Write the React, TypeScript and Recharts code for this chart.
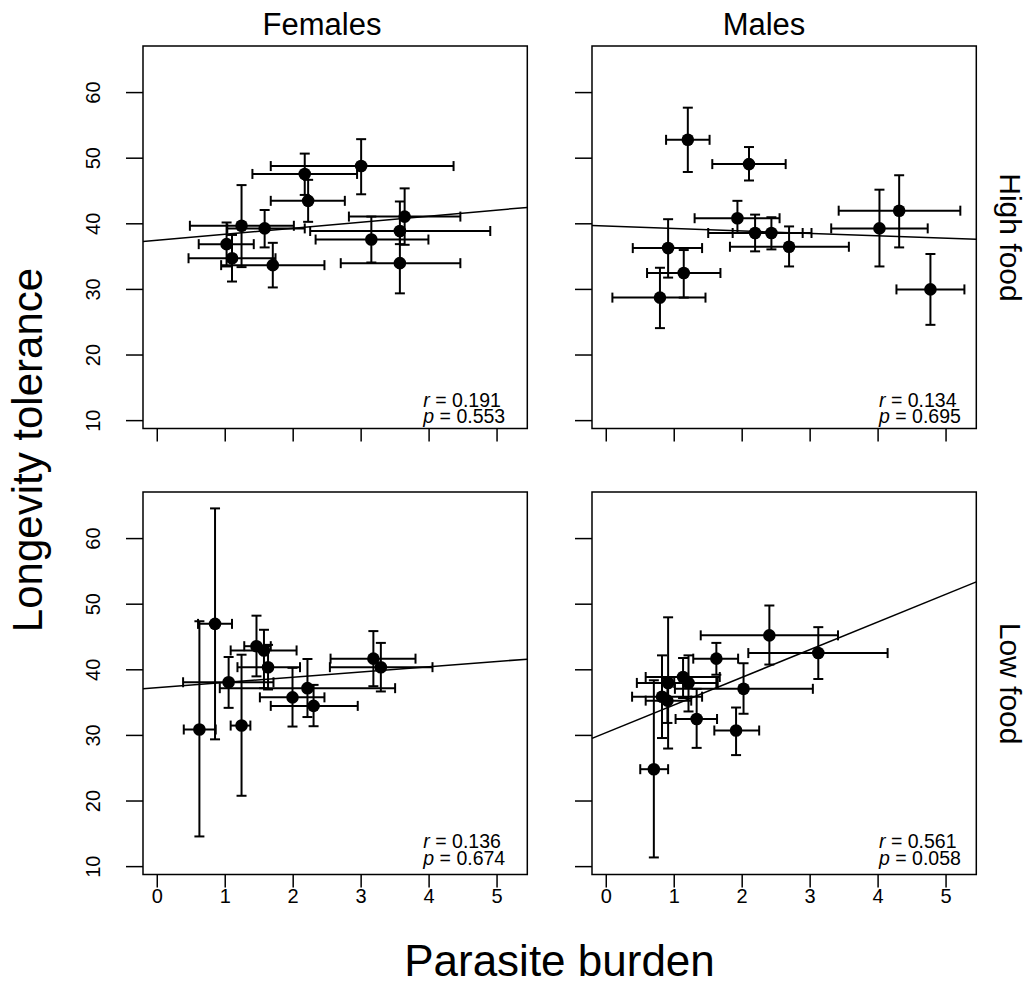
import React from 'react';
import { ScatterChart, Scatter, XAxis, YAxis, ErrorBar, ReferenceLine, ReferenceArea } from 'recharts';

const FONT = '"Liberation Sans", Arial, Helvetica, sans-serif';

// ---- axis ticks ----
const xTicks = [0, 1, 2, 3, 4, 5];
const yTicks = [10, 20, 30, 40, 50, 60];
const XMIN = -0.21;
const XMAX = 5.445;
const YMIN = 8.8;
const YMAX = 67.1;

// ---- Females, High food ----
const femHighX = [1.02, 1.10, 1.24, 1.58, 1.70, 2.17, 2.22, 3.00, 3.15, 3.57, 3.64, 3.57];
const femHighY = [36.9, 34.75, 39.7, 39.3, 33.7, 47.6, 43.5, 48.8, 37.6, 38.9, 41.1, 34.0];
const femHighXErr = [[0.61, 1.42], [0.46, 1.74], [0.48, 2.01], [1.03, 2.17], [0.94, 2.46], [1.40, 2.94], [1.67, 2.76], [1.67, 4.36], [2.33, 3.99], [2.25, 4.90], [2.82, 4.46], [2.70, 4.46]];
const femHighYErr = [[33.5, 40.2], [31.2, 38.3], [33.4, 45.9], [36.4, 42.1], [30.3, 37.1], [44.4, 50.7], [40.3, 46.7], [44.5, 52.9], [34.1, 41.1], [36.9, 43.4], [36.8, 45.4], [29.4, 38.6]];
const femHighFit = [37.49, 0.92];
const femHighStats = ['0.191', '0.553'];

// ---- Males, High food ----
const malHighX = [1.20, 2.10, 1.93, 2.19, 2.43, 2.69, 0.91, 1.14, 0.79, 4.02, 4.31, 4.77];
const malHighY = [52.8, 49.1, 40.85, 38.6, 38.6, 36.5, 36.3, 32.5, 28.75, 39.3, 42.0, 30.0];
const malHighXErr = [[0.88, 1.52], [1.56, 2.64], [1.30, 2.55], [1.50, 2.89], [1.86, 3.02], [1.82, 3.57], [0.39, 1.41], [0.60, 1.68], [0.09, 1.46], [3.31, 4.73], [3.42, 5.21], [4.27, 5.27]];
const malHighYErr = [[47.9, 57.7], [46.6, 51.7], [38.6, 43.5], [35.8, 41.4], [36.1, 41.0], [33.5, 39.6], [31.8, 40.7], [28.75, 36.0], [24.1, 33.3], [33.5, 45.2], [36.4, 47.4], [24.6, 35.4]];
const malHighFit = [39.65, -0.369];
const malHighStats = ['0.134', '0.695'];

// ---- Females, Low food ----
const femLowX = [0.85, 0.62, 1.05, 1.24, 1.46, 1.57, 1.63, 1.99, 2.21, 2.30, 3.18, 3.29];
const femLowY = [47.0, 30.9, 38.1, 31.5, 43.6, 42.95, 40.4, 35.8, 37.2, 34.5, 41.7, 40.4];
const femLowXErr = [[0.60, 1.10], [0.39, 0.86], [0.38, 1.71], [1.08, 1.37], [1.28, 1.67], [1.08, 2.05], [1.18, 2.10], [1.51, 2.46], [0.92, 3.50], [1.67, 2.95], [2.55, 3.80], [2.54, 4.05]];
const femLowYErr = [[29.4, 64.6], [14.6, 47.4], [34.2, 41.95], [20.8, 42.3], [39.0, 48.25], [37.2, 46.1], [37.0, 43.8], [31.35, 40.3], [32.8, 41.65], [31.4, 37.7], [37.5, 45.9], [36.7, 44.1]];
const femLowFit = [37.27, 0.80];
const femLowStats = ['0.136', '0.674'];

// ---- Males, Low food ----
const malLowX = [2.40, 3.12, 1.62, 2.02, 1.91, 1.33, 0.70, 0.91, 1.13, 1.21, 0.82, 0.90];
const malLowY = [45.25, 42.55, 41.7, 37.1, 30.75, 32.5, 24.85, 38.0, 38.9, 38.0, 35.9, 35.3];
const malLowXErr = [[1.39, 3.41], [2.09, 4.14], [1.28, 1.94], [1.01, 3.04], [1.59, 2.25], [1.02, 1.63], [0.50, 0.91], [0.45, 1.64], [0.58, 1.67], [1.00, 1.62], [0.38, 1.41], [0.58, 1.25]];
const malLowYErr = [[40.8, 49.8], [38.6, 46.5], [39.25, 44.1], [33.3, 41.0], [27.0, 34.25], [28.1, 37.1], [11.4, 38.4], [28.0, 48.0], [35.7, 41.8], [33.65, 42.2], [29.6, 42.2], [31.9, 38.7]];
const malLowFit = [30.43, 4.22];
const malLowStats = ['0.561', '0.058'];

// ---- layout ----
const PW = 384.3;
const PH = 382.5;
const PAD_L = 90;
const PAD_T = 10;
const PAD_R = 12;
const PAD_B = 60;
const COL_X = [142.7, 591.7];
const ROW_Y = [46, 492.3];
const TICK = 13;

function buildRows(xs: number[], ys: number[], xe: number[][], ye: number[][]) {
  return xs.map((x, i) => ({
    x,
    y: ys[i],
    ex: [x - xe[i][0], xe[i][1] - x],
    ey: [ys[i] - ye[i][0], ye[i][1] - ys[i]],
  }));
}

const Dot = (p: any) => <circle cx={p.cx} cy={p.cy} r={6.3} fill="#000" />;

function Panel(props: any) {
  const { left, top, rows, fit, xLabels, yLabels } = props;
  const [a, b] = fit;
  const renderX = (tp: any) => {
    if (!xLabels) return <g />;
    return (
      <text x={tp.x} y={PAD_T + PH + 22} textAnchor="middle" dominantBaseline="central" fontSize={20} fontFamily={FONT} fill="#000">
        {tp.payload.value}
      </text>
    );
  };
  const renderY = (tp: any) => {
    if (!yLabels) return <g />;
    const lx = PAD_L - 50.2;
    return (
      <text x={lx} y={tp.y} transform={`rotate(-90 ${lx} ${tp.y})`} textAnchor="middle" dominantBaseline="central" fontSize={20} fontFamily={FONT} fill="#000">
        {tp.payload.value}
      </text>
    );
  };
  return (
    <div style={{ position: 'absolute', left: left - PAD_L, top: top - PAD_T }}>
      <ScatterChart width={PW + PAD_L + PAD_R} height={PH + PAD_T + PAD_B} margin={{ top: PAD_T, right: PAD_R, bottom: 0, left: 0 }}>
        <XAxis type="number" dataKey="x" domain={[XMIN, XMAX]} ticks={xTicks} allowDataOverflow axisLine={false} tickSize={TICK} tickLine={{ stroke: '#000', strokeWidth: 1.5 }} height={PAD_B} tick={renderX} interval={0} />
        <YAxis type="number" dataKey="y" domain={[YMIN, YMAX]} ticks={yTicks} allowDataOverflow axisLine={false} width={PAD_L} tickSize={17} tickLine={{ stroke: '#000', strokeWidth: 1.5 }} tick={renderY} interval={0} />
        <ReferenceArea x1={XMIN} x2={XMAX} y1={YMIN} y2={YMAX} fill="none" fillOpacity={0} stroke="#000" strokeWidth={1.5} ifOverflow="visible" />
        <ReferenceLine segment={[{ x: XMIN, y: a + b * XMIN }, { x: XMAX, y: a + b * XMAX }]} stroke="#000" strokeWidth={1.5} ifOverflow="visible" />
        <Scatter data={rows} fill="#000" isAnimationActive={false} shape={Dot}>
          <ErrorBar dataKey="ex" direction="x" width={5} stroke="#000" strokeWidth={2} isAnimationActive={false} />
          <ErrorBar dataKey="ey" direction="y" width={5} stroke="#000" strokeWidth={2} isAnimationActive={false} />
        </Scatter>
      </ScatterChart>
    </div>
  );
}

function Stats(props: any) {
  const { x, y, r, p } = props;
  return (
    <g fontFamily={FONT} fontSize={19.5} fill="#000">
      <text x={x} y={y}>
        <tspan fontStyle="italic">r</tspan>
        <tspan> = {r}</tspan>
      </text>
      <text x={x} y={y + 16.5}>
        <tspan fontStyle="italic">p</tspan>
        <tspan> = {p}</tspan>
      </text>
    </g>
  );
}

export default function App() {
  const panels = [
    { col: 0, row: 0, rows: buildRows(femHighX, femHighY, femHighXErr, femHighYErr), fit: femHighFit, stats: femHighStats },
    { col: 1, row: 0, rows: buildRows(malHighX, malHighY, malHighXErr, malHighYErr), fit: malHighFit, stats: malHighStats },
    { col: 0, row: 1, rows: buildRows(femLowX, femLowY, femLowXErr, femLowYErr), fit: femLowFit, stats: femLowStats },
    { col: 1, row: 1, rows: buildRows(malLowX, malLowY, malLowXErr, malLowYErr), fit: malLowFit, stats: malLowStats },
  ];
  const statX = [423.3, 879];
  const statY = [406.7, 848];
  return (
    <div style={{ position: 'absolute', left: 0, top: 0, width: 1033, height: 989, background: '#fff', fontFamily: FONT }}>
      {panels.map((pn, i) => (
        <Panel key={i} left={COL_X[pn.col]} top={ROW_Y[pn.row]} rows={pn.rows} fit={pn.fit} xLabels={pn.row === 1} yLabels={pn.col === 0} />
      ))}
      <svg width={1033} height={989} style={{ position: 'absolute', left: 0, top: 0, pointerEvents: 'none' }}>
        <g fontFamily={FONT} fill="#000">
          <text x={322} y={35} textAnchor="middle" fontSize={31}>Females</text>
          <text x={764} y={35} textAnchor="middle" fontSize={31}>Males</text>
          <text x={1010} y={237.5} textAnchor="middle" dominantBaseline="central" fontSize={30} transform="rotate(90 1010 237.5)">High food</text>
          <text x={1010} y={683.6} textAnchor="middle" dominantBaseline="central" fontSize={30} transform="rotate(90 1010 683.6)">Low food</text>
          <text x={27.5} y={450} textAnchor="middle" dominantBaseline="central" fontSize={42} transform="rotate(-90 27.5 450)">Longevity tolerance</text>
          <text x={559.5} y={976} textAnchor="middle" fontSize={44}>Parasite burden</text>
        </g>
        {panels.map((pn, i) => (
          <Stats key={i} x={statX[pn.col]} y={statY[pn.row]} r={pn.stats[0]} p={pn.stats[1]} />
        ))}
      </svg>
    </div>
  );
}
